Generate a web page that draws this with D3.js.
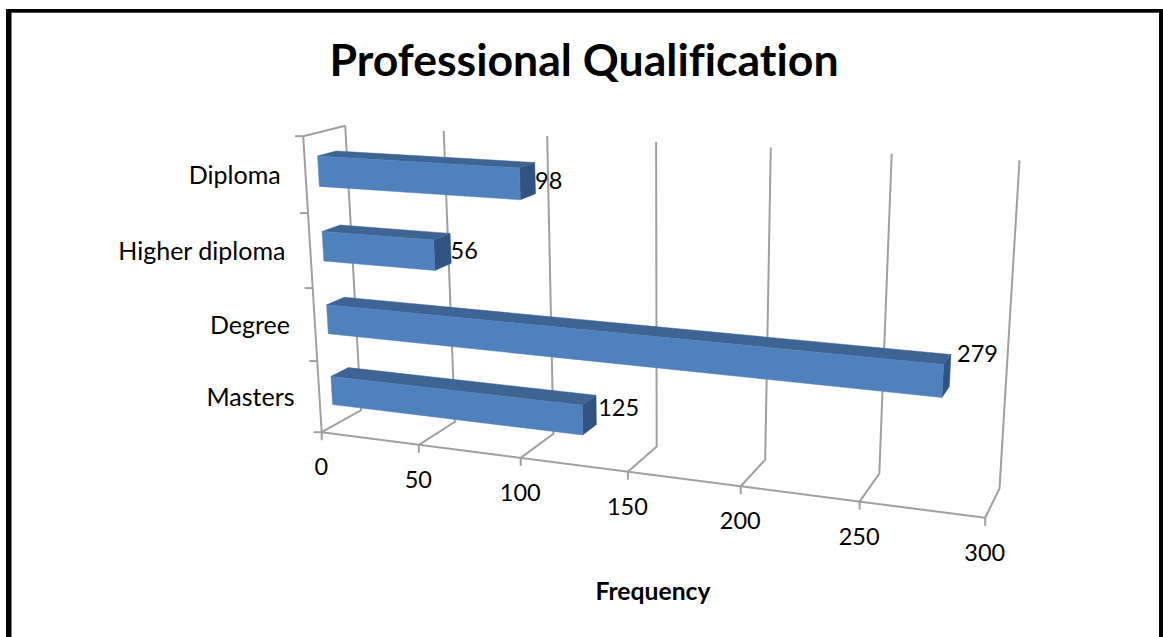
<!DOCTYPE html>
<html>
<head>
<meta charset="utf-8">
<style>
html,body{margin:0;padding:0;background:#fff}
svg{display:block}
text{font-family:Lato,"Open Sans",sans-serif;fill:#000;font-variant-ligatures:none}
</style>
<script src="https://cdn.jsdelivr.net/npm/d3@7/dist/d3.min.js"></script>
</head>
<body>
<svg id="chart" width="1163" height="637"></svg>
<script>
const titleText = "Professional Qualification";
const axisTitle = "Frequency";
const categories = ["Masters", "Degree", "Higher diploma", "Diploma"];
const frequencies = [125, 279, 56, 98];
const valueTicks = [0, 50, 100, 150, 200, 250, 300];

const svg = d3.select("#chart");

// Unit-box scales: value runs along x, category along y, depth along z.
const xScale = d3.scaleLinear().domain([0, 300]).range([0, 1]);
const yScale = d3.scaleBand().domain(categories).range([0, 1]).paddingInner(0.6).paddingOuter(0.3);
const barFrontZ = 0.3, barBackZ = 0.74;

// Camera: reference points of the plot box [x, y, z] and where they land on the page.
const boxCorners = [
  [[0, 0, 0], [322, 432]], [[1, 0, 0], [985, 518]], [[0.5, 0, 0], [628, 472]],
  [[0, 1, 0], [303, 136]],
  [[0, 0, 1], [361, 410]], [[1, 0, 1], [1000, 488]], [[0.5, 0, 1], [656, 447]],
  [[0, 1, 1], [345, 126]], [[1, 1, 1], [1019, 160]], [[0.5, 1, 1], [657, 142]]
];

function solveCamera(pairs) {
  const rows = [], rhs = [];
  pairs.forEach(([[x, y, z], [u, v]]) => {
    rows.push([x, y, z, 1, 0, 0, 0, 0, -u * x, -u * y, -u * z]); rhs.push(u);
    rows.push([0, 0, 0, 0, x, y, z, 1, -v * x, -v * y, -v * z]); rhs.push(v);
  });
  const n = 11;
  const A = d3.range(n).map(i => {
    const row = d3.range(n).map(j => d3.sum(rows, r => r[i] * r[j]));
    row.push(d3.sum(rows, (r, k) => r[i] * rhs[k]));
    return row;
  });
  for (let i = 0; i < n; i++) {
    let p = i;
    for (let k = i + 1; k < n; k++) if (Math.abs(A[k][i]) > Math.abs(A[p][i])) p = k;
    [A[i], A[p]] = [A[p], A[i]];
    for (let k = 0; k < n; k++) {
      if (k === i) continue;
      const f = A[k][i] / A[i][i];
      for (let j = i; j <= n; j++) A[k][j] -= f * A[i][j];
    }
  }
  return d3.range(n).map(i => A[i][n] / A[i][i]);
}
const cam = solveCamera(boxCorners);
function project(x, y, z) {
  const w = cam[8] * x + cam[9] * y + cam[10] * z + 1;
  return [(cam[0] * x + cam[1] * y + cam[2] * z + cam[3]) / w,
          (cam[4] * x + cam[5] * y + cam[6] * z + cam[7]) / w];
}
const pathOf = pts => "M" + pts.map(p => p.map(n => n.toFixed(1)).join(",")).join("L");

// Page frame: open along the bottom edge.
const frame = svg.append("g").attr("fill", "#000");
frame.append("rect").attr("x", 6).attr("y", 9).attr("width", 5.5).attr("height", 628);
frame.append("rect").attr("x", 6).attr("y", 9).attr("width", 1157).attr("height", 3.7);
frame.append("rect").attr("x", 1159).attr("y", 9).attr("width", 4).attr("height", 628);

svg.append("text").attr("x", 584).attr("y", 76).attr("text-anchor", "middle")
  .attr("font-size", 44.6).attr("font-weight", 700).text(titleText);

// Walls and floor
const grid = svg.append("g").attr("fill", "none").attr("stroke", "#a0a0a0").attr("stroke-width", 2);
valueTicks.forEach(t => {
  const x = xScale(t);
  grid.append("path").attr("d", pathOf([project(x, 0, 0), project(x, 0, 1), project(x, 1, 1)]));
  const p = project(x, 0, 0);
  grid.append("path").attr("d", pathOf([p, [p[0], p[1] + 8]]));
});
grid.append("path").attr("d", pathOf([project(0, 0, 0), project(1, 0, 0)]));
grid.append("path").attr("d", pathOf([project(0, 0, 0), project(0, 1, 0), project(0, 1, 1)]));
d3.range(categories.length + 1).forEach(i => {
  const p = project(0, i / categories.length, 0);
  grid.append("path").attr("d", pathOf([p, [p[0] - 8, p[1]]]));
});

// Bars: side, top, then front face of each box
const bars = svg.append("g").selectAll("g")
  .data(categories.map((c, i) => ({ category: c, value: frequencies[i] })))
  .join("g");
const face = (d, corner) => {
  const x1 = xScale(d.value), y0 = yScale(d.category), y1 = y0 + yScale.bandwidth();
  return pathOf(corner(x1, y0, y1)) + "Z";
};
bars.append("path").attr("fill", "#31537f").attr("stroke", "#31537f").attr("stroke-width", 0.5)
  .attr("d", d => face(d, (x, y0, y1) => [
    project(x, y0, barFrontZ), project(x, y1, barFrontZ), project(x, y1, barBackZ), project(x, y0, barBackZ)]));
bars.append("path").attr("fill", "#3e6494").attr("stroke", "#3e6494").attr("stroke-width", 0.5)
  .attr("d", d => face(d, (x, y0, y1) => [
    project(0, y1, barFrontZ), project(x, y1, barFrontZ), project(x, y1, barBackZ), project(0, y1, barBackZ)]));
bars.append("path").attr("fill", "#4f81bd").attr("stroke", "#4f81bd").attr("stroke-width", 0.5)
  .attr("d", d => face(d, (x, y0, y1) => [
    project(0, y0, barFrontZ), project(x, y0, barFrontZ), project(x, y1, barFrontZ), project(0, y1, barFrontZ)]));

// Value labels at the far end of each bar; the longest bar's label sits above its end.
const labelShift = d => d.value > 250 ? [5, -16] : d.value > 100 ? [0, -1] : [-2, 4];
bars.append("text").attr("font-size", 23.5).attr("dominant-baseline", "middle")
  .attr("transform", d => {
    const p = project(xScale(d.value), yScale(d.category) + yScale.bandwidth() / 2, barBackZ);
    const [dx, dy] = labelShift(d);
    return `translate(${p[0] + 2 + dx},${p[1] + 1 + dy})`;
  })
  .text(d => d.value);

// Category labels beside the left wall
svg.append("g").selectAll("text").data(categories).join("text")
  .attr("font-size", 25).attr("text-anchor", "end").attr("dominant-baseline", "middle")
  .attr("transform", c => {
    const p = project(0, yScale(c) + yScale.bandwidth() / 2, 0);
    return `translate(${p[0] - 25},${p[1] + 3})`;
  })
  .text(c => c);

// Value tick labels under the floor
svg.append("g").selectAll("text").data(valueTicks).join("text")
  .attr("font-size", 23.5).attr("text-anchor", "middle").attr("dominant-baseline", "middle")
  .attr("transform", t => {
    const p = project(xScale(t), 0, 0);
    return `translate(${p[0] - 0.5},${p[1] + 37})`;
  })
  .text(t => t);

svg.append("text").attr("x", 653).attr("y", 600).attr("text-anchor", "middle")
  .attr("font-size", 24.7).attr("font-weight", 700).text(axisTitle);
</script>
</body>
</html>
